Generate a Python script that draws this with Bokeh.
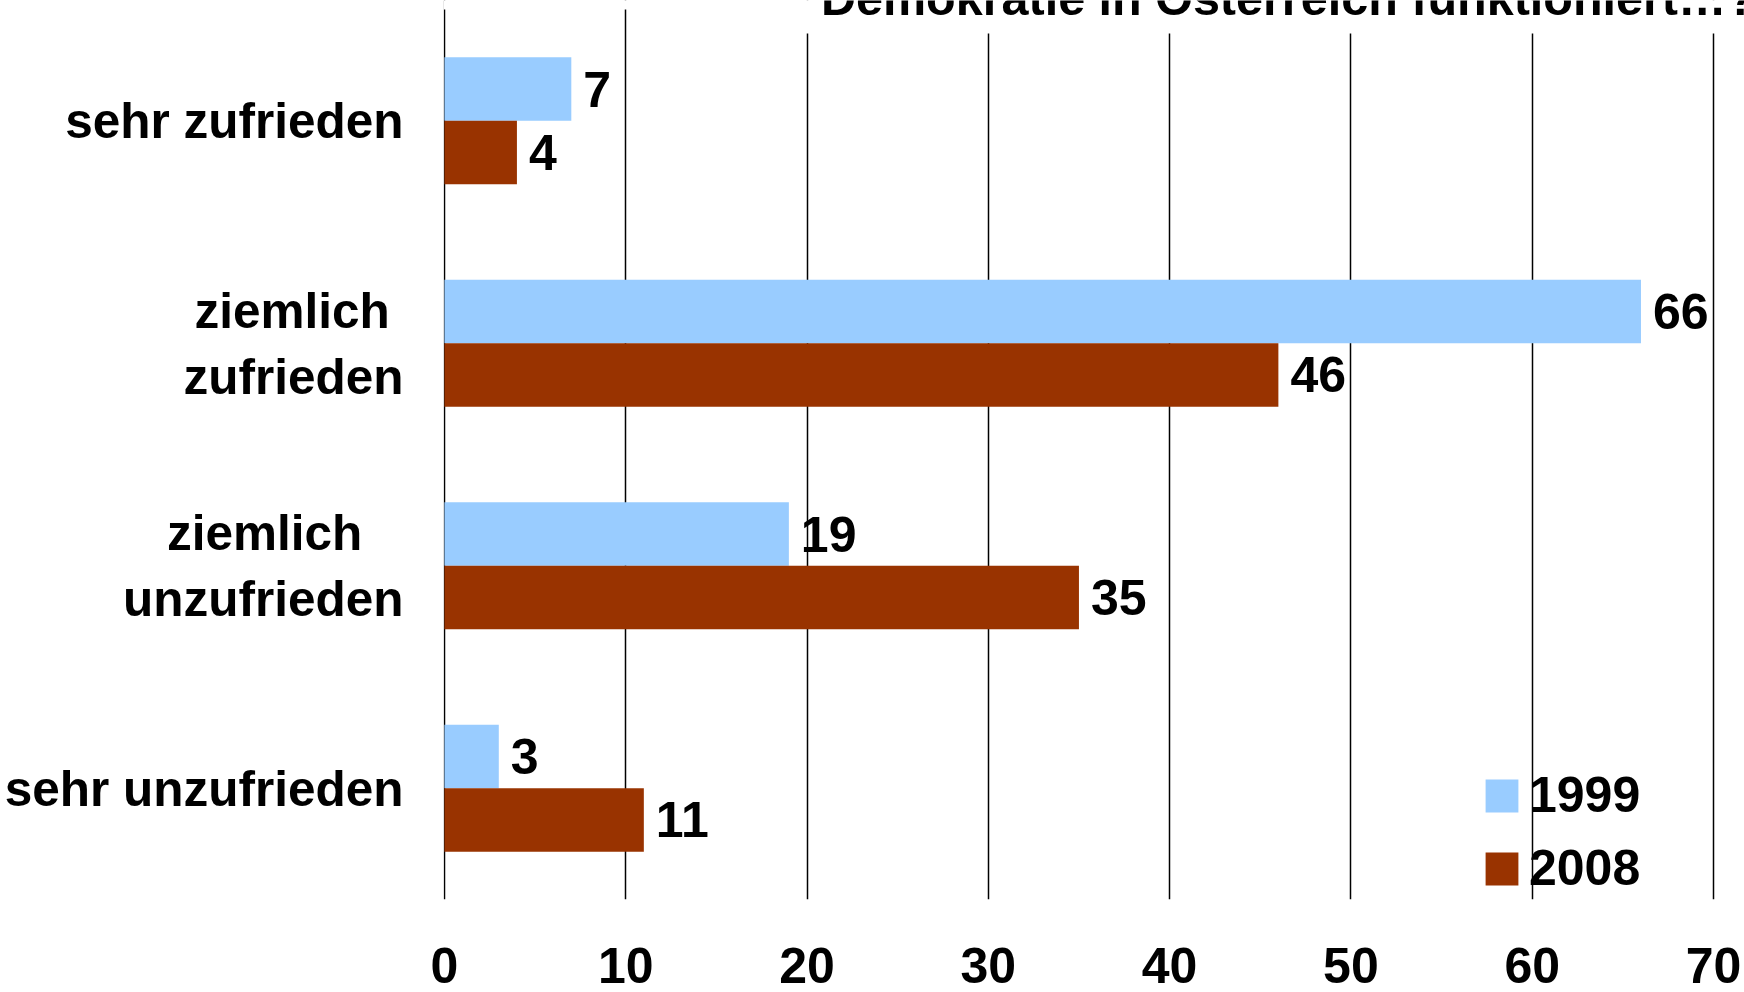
from bokeh.plotting import figure
from bokeh.models import (Range1d, ColumnDataSource, Label, Legend, LegendItem,
                          FixedTicker, BoxAnnotation)
from bokeh.core.properties import value
from bokeh.embed import file_html
from bokeh.resources import INLINE

# Survey answers, top to bottom (non-breaking spaces centre the shorter first line)
categories = ["sehr zufrieden",
              "ziemlich\u00a0\nzufrieden",
              "ziemlich\u00a0\u00a0\u00a0\nunzufrieden",
              "sehr unzufrieden"]
values_1999 = [7, 66, 19, 3]
values_2008 = [4, 46, 35, 11]
series_names = ["1999", "2008"]
x_ticks = [0, 10, 20, 30, 40, 50, 60, 70]
title_text = "Demokratie in Österreich funktioniert…?"

FONT = "Liberation Sans"
COL_1999 = "#99CCFF"
COL_2008 = "#993300"

BAR_H = 0.285   # bar thickness, in category units
OFF = 0.1425    # offset of each series from the category centre

n = len(categories)
centres = [n - 0.5 - i for i in range(n)]   # first category on top

source = ColumnDataSource(data=dict(
    y1999=[c + OFF for c in centres],
    y2008=[c - OFF for c in centres],
    v1999=values_1999,
    v2008=values_2008,
    l1999=[str(v) for v in values_1999],
    l2008=[str(v) for v in values_2008],
))

TOP_GAP = 0.0405  # empty band above the first category
p = figure(
    width=1744, height=992,
    x_range=Range1d(-0.05, 71.71),
    y_range=Range1d(0, n + TOP_GAP),
    output_backend="svg", toolbar_location=None,
    min_border_left=443, min_border_right=0, min_border_top=0, min_border_bottom=93,
)
p.outline_line_color = None
p.background_fill_color = "white"
p.border_fill_color = "white"

r1 = p.hbar(y="y1999", right="v1999", left=0, height=BAR_H,
            source=source, fill_color=COL_1999, line_color=None)
r2 = p.hbar(y="y2008", right="v2008", left=0, height=BAR_H,
            source=source, fill_color=COL_2008, line_color=None)

# value labels right of each bar
for col, ycol, lab in (("v1999", "y1999", "l1999"), ("v2008", "y2008", "l2008")):
    p.text(x=col, y=ycol, text=lab, source=source,
           x_offset=12, text_baseline="middle", text_align="left",
           text_font=value(FONT), text_font_style="bold", text_font_size="50px",
           text_color="black")

# grid: vertical black lines only
p.xgrid.ticker = FixedTicker(ticks=x_ticks)
p.xgrid.grid_line_color = "black"
p.xgrid.grid_line_width = 1.5
p.ygrid.grid_line_color = None

p.xaxis.ticker = FixedTicker(ticks=x_ticks)
p.xaxis.axis_line_color = None
p.xaxis.major_tick_line_color = None
p.xaxis.minor_tick_line_color = None
p.xaxis.major_tick_out = 0
p.xaxis.major_tick_in = 0
p.xaxis.major_label_standoff = 48
p.xaxis.major_label_text_font = FONT
p.xaxis.major_label_text_font_style = "bold"
p.xaxis.major_label_text_font_size = "50px"
p.xaxis.major_label_text_color = "black"

p.yaxis.ticker = FixedTicker(ticks=centres)
p.yaxis.major_label_overrides = {c: lab for c, lab in zip(centres, categories)}
p.yaxis.minor_tick_line_color = None
p.yaxis.axis_line_color = None
p.yaxis.major_tick_line_color = None
p.yaxis.major_tick_out = 0
p.yaxis.major_tick_in = 0
p.yaxis.major_label_standoff = 40
p.yaxis.major_label_text_font = FONT
p.yaxis.major_label_text_font_style = "bold"
p.yaxis.major_label_text_font_size = "49.5px"
p.yaxis.major_label_text_color = "black"

legend = Legend(items=[LegendItem(label=series_names[0], renderers=[r1]),
                       LegendItem(label=series_names[1], renderers=[r2])],
                location=(1038, 2))
legend.glyph_width = 41
legend.glyph_height = 41
legend.label_standoff = 7
legend.spacing = 15
legend.padding = 0
legend.margin = 0
legend.border_line_color = None
legend.background_fill_alpha = 0
legend.label_text_font = FONT
legend.label_text_font_style = "bold"
legend.label_text_font_size = "50px"
legend.label_text_color = "black"
p.add_layout(legend)

# white bands at the top: a thin one over the whole width, a deeper one behind the heading
p.add_layout(BoxAnnotation(bottom=n, fill_color="white", fill_alpha=1.0, line_color=None))
p.add_layout(BoxAnnotation(left=19.7, bottom=n - 0.108, fill_color="white", fill_alpha=1.0,
                           line_color=None))

title = Label(x=72.35, y=n + TOP_GAP + 0.009, text=title_text, text_align="right",
              text_baseline="alphabetic",
              text_font=FONT, text_font_style="bold", text_font_size="48.5px", text_color="black")
p.add_layout(title)

open("out.html", "w").write(file_html(p, INLINE))
